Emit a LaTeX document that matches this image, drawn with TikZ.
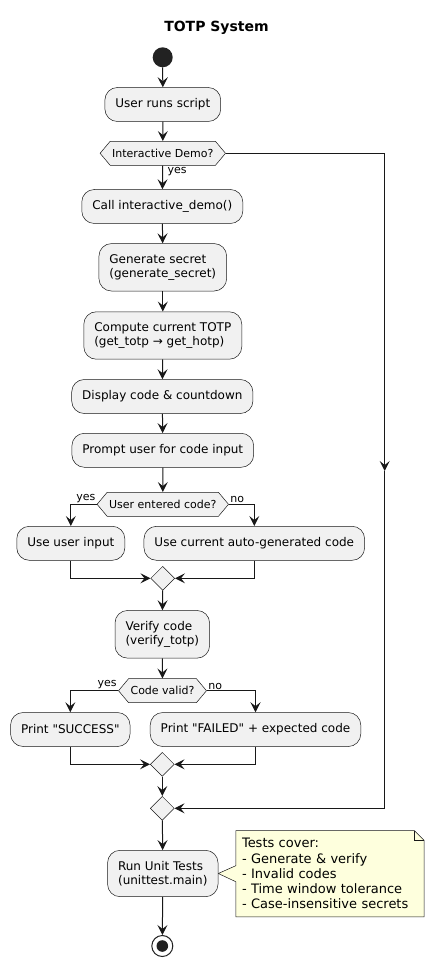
\documentclass[tikz,border=0pt]{standalone}
\usepackage{fontspec}
\setmainfont{DejaVu Sans}
\usetikzlibrary{shapes.geometric}
\usetikzlibrary{shapes.symbols}
\usetikzlibrary{arrows.meta}
\definecolor{actfill}{HTML}{F1F1F1}
\definecolor{actline}{HTML}{181818}
\definecolor{notefill}{HTML}{FEFFDD}
\definecolor{dotfill}{HTML}{222222}
\pgfdeclarelayer{bg}
\pgfsetlayers{bg,main}

\begin{document}
\begin{tikzpicture}[x=1pt, y=-1pt,
  act/.style={draw=actline, line width=0.5pt, fill=actfill, rounded corners=12.5pt, align=left, font=\fontsize{12}{14.5}\selectfont, inner xsep=10.5pt, inner ysep=10.6pt, minimum height=34pt},
  decision/.style={signal, signal to=west and east, signal pointer angle=100, draw=actline, line width=0.5pt, fill=actfill, font=\fontsize{11}{13}\selectfont, minimum height=24pt, inner xsep=2pt, inner ysep=0pt},
  merge/.style={diamond, draw=actline, line width=0.5pt, fill=actfill, minimum width=24pt, minimum height=24pt, inner sep=0pt},
  flow/.style={draw=actline, line width=1pt, -{Stealth[length=10pt, width=10pt, inset=4pt]}},
  lbl/.style={font=\fontsize{11}{13}\selectfont, inner sep=1pt},
  notebox/.style={draw=actline, line width=0.5pt, fill=notefill}]
\useasboundingbox (0,0) rectangle (435,968);
\begin{scope}
  \node[font=\bfseries\fontsize{14}{16}\selectfont] (title) at (216.5, 28) {TOTP System}; %title
  \node[circle, fill=dotfill, minimum size=20pt, inner sep=0pt] (start) at (162.7, 57.3) {}; %start
  \node[act] (act0) at (162.8, 104.5) {User runs script};
  \node[decision] (dec0) at (162.8, 153.3) {Interactive Demo?};
  \node[act] (act1) at (162.3, 206.5) {Call interactive\_demo()};
  \node[act] (act2) at (162.8, 267.3) {Generate secret\\(generate\_secret)};
  \node[act] (act3) at (162.8, 335.5) {Compute current TOTP\\(get\_totp → get\_hotp)};
  \node[act] (act4) at (162.3, 396.5) {Display code \& countdown};
  \node[act] (act5) at (162.8, 450.3) {Prompt user for code input};
  \node[decision] (dec1) at (162.8, 504.3) {User entered code?};
  \node[act] (act6) at (70.8, 543.3) {Use user input};
  \node[act] (act7) at (254.3, 543.3) {Use current auto-generated code};
  \node[merge] (merge0) at (162.7, 578.3) {};
  \node[act] (act8) at (162.3, 634.3) {Verify code\\(verify\_totp)};
  \node[decision] (dec2) at (162.5, 690.7) {Code valid?};
  \node[act] (act9) at (70.3, 729.5) {Print \textquotedbl SUCCESS\textquotedbl};
  \node[act] (act10) at (255.5, 729.5) {Print \textquotedbl FAILED\textquotedbl\ + expected code};
  \node[merge] (merge1) at (162.3, 764.3) {};
  \node[merge] (merge2) at (162.3, 808.3) {};
  \node[act] (act11) at (162.8, 873.5) {Run Unit Tests\\(unittest.main)};
  \node[circle, draw=dotfill, line width=1pt, fill=white, minimum size=21pt, inner sep=0pt,
    path picture={\fill[dotfill] (path picture bounding box.center) circle (5.8pt);}] (stop) at (162.3, 946) {}; %stop
  \node[font=\fontsize{13}{15.2}\selectfont, align=left, text width=176pt, inner xsep=6pt, minimum height=86pt] (note0) at (330, 873.7) {Tests cover:\\- Generate \& verify\\- Invalid codes\\- Time window tolerance\\- Case-insensitive secrets}; %note
  \coordinate (skip0) at (384.7, 471);
  \draw[flow] (start) -- (act0);
  \draw[flow] (act0) -- (dec0);
  \draw[flow] (dec0) -- node[lbl, pos=0, anchor=north west, xshift=3.5pt] {yes} (act1);
  \draw[flow] (dec0.east) -| (skip0);
  \draw[flow] (skip0) |- (merge2.east);
  \draw[flow] (act1) -- (act2);
  \draw[flow] (act2) -- (act3);
  \draw[flow] (act3) -- (act4);
  \draw[flow] (act4) -- (act5);
  \draw[flow] (act5) -- (dec1);
  \draw[flow] (dec1.west) -| node[lbl, pos=0, anchor=south east] {yes} (act6);
  \draw[flow] (dec1.east) -| node[lbl, pos=0, anchor=south west] {no} (act7);
  \draw[flow] (act6) |- (merge0.west);
  \draw[flow] (act7) |- (merge0.east);
  \draw[flow] (merge0) -- (act8);
  \draw[flow] (act8) -- (dec2);
  \draw[flow] (dec2.west) -| node[lbl, pos=0, anchor=south east] {yes} (act9);
  \draw[flow] (dec2.east) -| node[lbl, pos=0, anchor=south west] {no} (act10);
  \draw[flow] (act9) |- (merge1.west);
  \draw[flow] (act10) |- (merge1.east);
  \draw[flow] (merge1) -- (merge2);
  \draw[flow] (merge2) -- (act11);
  \draw[flow] (act11) -- (stop);
\begin{pgfonlayer}{bg}
  \draw[notebox] (note0.north west) -- ([xshift=-10pt]note0.north east) -- ([yshift=-10pt]note0.north east) -- (note0.south east) -- (note0.south west) -- ([yshift=-8pt]note0.west) -- (act11.east) -- ([yshift=8pt]note0.west) -- cycle;
  \draw[notebox, fill=none] ([xshift=-10pt]note0.north east) -- ([xshift=-10pt, yshift=-10pt]note0.north east) -- ([yshift=-10pt]note0.north east);
\end{pgfonlayer}
\end{scope}
\end{tikzpicture}
\end{document}
